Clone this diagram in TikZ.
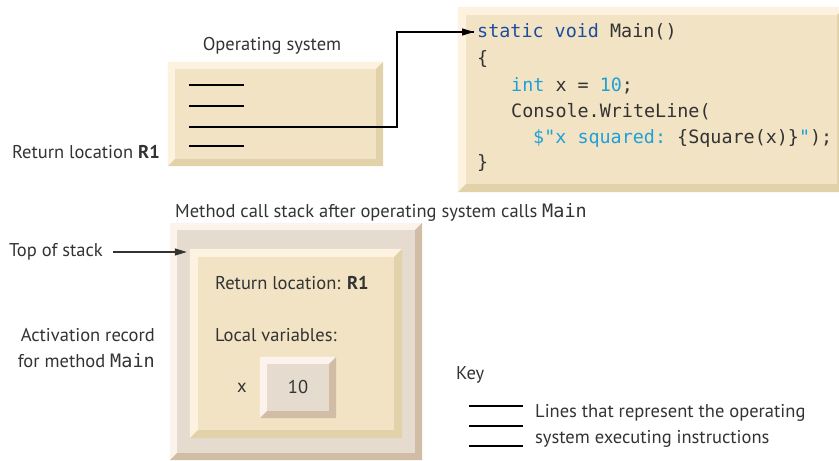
\documentclass[tikz,border=0pt]{standalone}
\usepackage{fontspec}
\setmainfont{PT Sans}
\setmonofont{DejaVu Sans Mono}
\usepackage{xcolor}
\usetikzlibrary{arrows.meta,positioning,calc}
\definecolor{inkgray}{HTML}{333333}
\definecolor{creamface}{HTML}{F1E3C4}
\definecolor{creamlight}{HTML}{FCF2DF}
\definecolor{creamdark}{HTML}{E2D2A9}
\definecolor{stackface}{HTML}{E5DCCF}
\definecolor{stacklight}{HTML}{FCF3EC}
\definecolor{stackdark}{HTML}{D1BDA6}
\definecolor{kwblue}{HTML}{1D4E9E}
\definecolor{kwcyan}{HTML}{1EA1D9}
% raised edge round a box node: #1 node, #2 edge width, #3 light, #4 dark
\newcommand{\bevel}[4]{%
  \fill[#3] (#1.north west) -- (#1.north east) -- ([shift={(-#2pt,-#2pt)}]#1.north east)
    -- ([shift={(#2pt,-#2pt)}]#1.north west) -- ([shift={(#2pt,#2pt)}]#1.south west)
    -- (#1.south west) -- cycle;
  \fill[#4] (#1.south east) -- (#1.north east) -- ([shift={(-#2pt,-#2pt)}]#1.north east)
    -- ([shift={(-#2pt,#2pt)}]#1.south east) -- ([shift={(#2pt,#2pt)}]#1.south west)
    -- (#1.south west) -- cycle;
}

\begin{document}
\begin{tikzpicture}[
  x=1pt, y=-1pt,
  txt/.style={font=\fontsize{18.5}{26}\selectfont, text=inkgray, inner sep=0pt},
  code/.style={font=\fontsize{18.4}{26}\selectfont\ttfamily, text=inkgray,
    inner sep=0pt, anchor=west},
  panel/.style={rectangle, inner sep=0pt, fill=creamface},
  stackpanel/.style={rectangle, inner sep=0pt, fill=stackface},
  arrow/.style={-{Triangle[length=12pt,width=7pt]}, line width=1.2pt, draw=inkgray},
  oline/.style={line width=1.4pt, draw=black}
]
  \useasboundingbox (0,0) rectangle (839,461);

  % Operating system
  \node[panel, minimum width=215pt, minimum height=104pt] (os) at (275.5,114) {};
  \bevel{os}{7}{creamlight}{creamdark}
  \node[txt] (oslabel) at (272,46) {Operating system};
  \foreach \y/\n in {85/l1,106/l2,127/ret,146/l4}
    \coordinate (\n) at (189,\y);
  \foreach \n in {l1,l2,l4}
    \draw[oline] (\n) -- ++(55,0);
  \node[txt, anchor=east] (retlab) at (160,152) {Return location \textbf{R1}};

  % Code of Main
  \node[panel, minimum width=387pt, minimum height=185pt] (code) at (651.5,99.5) {};
  \bevel{code}{8}{creamlight}{creamdark}
  \node[code] (sig) at (477,32) {\textcolor{kwblue}{static void} Main()};
  \node[code] (open) at (477,59) {\{};
  \node[code] (decl) at (511,86) {\textcolor{kwcyan}{int} x = \textcolor{kwcyan}{10};};
  \node[code] (call) at (511,112) {Console.WriteLine(};
  \node[code] (arg) at (533,138) {\textcolor{kwcyan}{\$"x squared: }\{Square(x)\}\textcolor{kwcyan}{"});};
  \node[code] (close) at (477,163) {\}};
  \draw[oline, line width=1.2pt] (ret) -- ++(208,0) |- ([xshift=-3pt]sig.west);
  \draw[arrow, draw=black] ([xshift=-20pt]sig.west) -- ([xshift=-3pt]sig.west);

  % Method call stack
  \node[txt, anchor=west] (stacklab) at (175,212) {Method call stack after operating system calls \texttt{Main}};
  \node[stackpanel, minimum width=252pt, minimum height=237pt] (stack) at (296,341.5) {};
  \bevel{stack}{7}{stacklight}{stackdark}
  \node[panel, minimum width=212pt, minimum height=189pt] (frame) at (296,343.5) {};
  \bevel{frame}{8}{creamlight}{creamdark}
  \node[txt, anchor=east] (toplab) at (103,252) {Top of stack};
  \draw[arrow, shorten <=10pt, shorten >=3pt] (toplab.east) -- (toplab.east -| frame.west);
  \node[txt, anchor=west] (retloc) at (215,283) {Return location: \textbf{R1}};
  \node[txt, anchor=west] (locals) at (215,335) {Local variables:};
  \node[stackpanel, txt, minimum width=76pt, minimum height=61pt] (val) at (298,387.5) {10};
  \bevel{val}{7}{stacklight}{stackdark}
  \node[txt, left=13pt of val] (xlab) {x};
  \node[txt, anchor=east, align=right] (actlab) at (155,348) {Activation record\\for method \texttt{Main}};

  % Key
  \node[txt, anchor=west] (key) at (456,375) {Key};
  \foreach \y in {406,426,446}
    \draw[oline, line width=1.2pt] (469,\y) -- (523,\y);
  \node[txt, anchor=west, align=left] (keytext) at (535,426) {Lines that represent the operating\\system executing instructions};
\end{tikzpicture}
\end{document}
